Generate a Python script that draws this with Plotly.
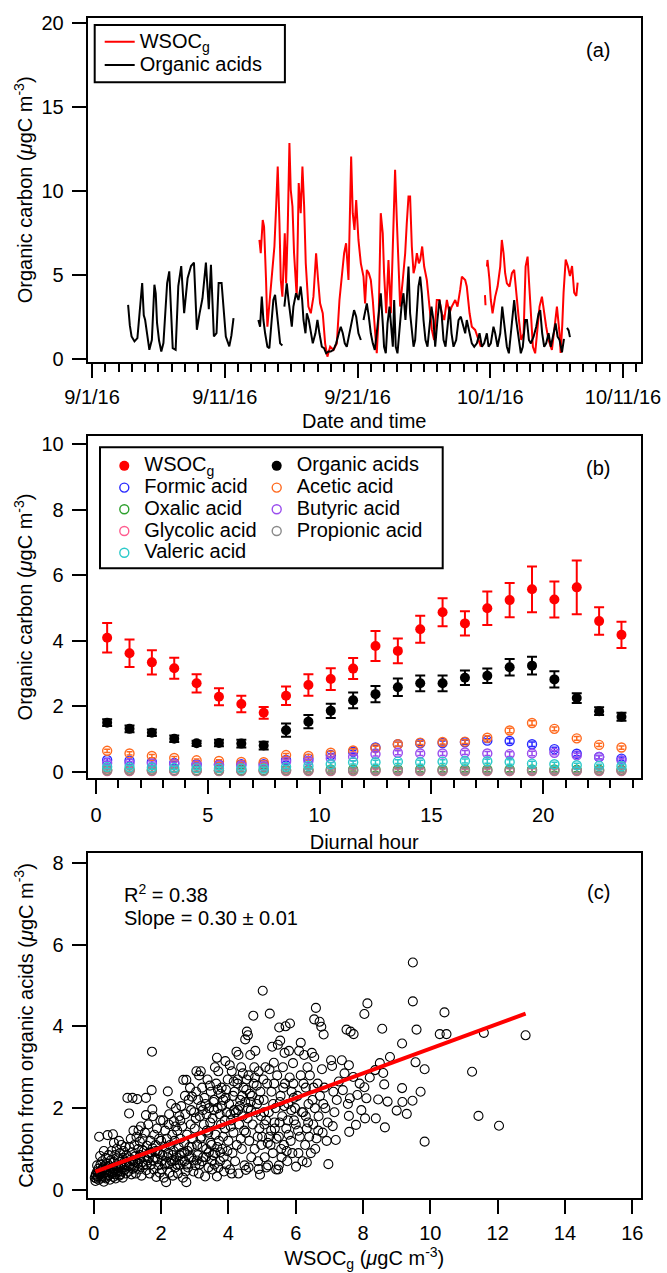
import plotly.graph_objects as go
import pandas as pd

W, H = 667, 1273
FONT = "Liberation Sans, Arial, Helvetica, sans-serif"
BASE = pd.Timestamp("2016-09-01")

# ---------------- Panel (a): time series (days after 9/1/16, value) ----------------
wsoc_ts = [
    (12.61, 7.08), (12.71, 6.29), (12.86, 8.27), (12.96, 7.88), (13.11, 4.70), (13.21, 1.92),
    (13.41, 3.71), (13.61, 5.30), (13.74, 6.69), (13.87, 9.07), (13.99, 11.45), (14.12, 8.08),
    (14.22, 4.70), (14.34, 3.71), (14.42, 5.50), (14.52, 7.48), (14.62, 4.50), (14.74, 7.68),
    (14.87, 12.84), (14.97, 10.06), (15.10, 9.07), (15.22, 6.29), (15.42, 3.71), (15.57, 10.46),
    (15.72, 8.67), (15.85, 11.45), (15.98, 9.07), (16.10, 5.69), (16.30, 3.12), (16.48, 2.72),
    (16.68, 3.71), (16.88, 6.29), (17.03, 4.70), (17.18, 3.31), (17.38, 2.72), (17.56, 0.93),
    (17.73, 0.14), (17.94, 0.73), (18.19, 0.54), (18.44, 0.93), (18.64, 3.51), (18.81, 5.10),
    (18.99, 6.29), (19.14, 6.88), (19.32, 4.70), (19.52, 12.04), (19.64, 8.67), (19.77, 7.68),
    (19.90, 9.46), (20.07, 7.08), (20.25, 5.69), (20.45, 4.90), (20.57, 3.31), (20.70, 5.30),
    (20.85, 5.10), (21.00, 4.70), (21.15, 3.51), (21.33, 1.53), (21.45, 0.34), (21.60, 2.72),
    (21.75, 8.67), (21.90, 7.48), (22.00, 5.10), (22.16, 2.72), (22.33, 5.89), (22.51, 2.72),
    (22.66, 6.69), (22.83, 11.25), (22.96, 8.27), (23.09, 5.50), (23.21, 3.12), (23.41, 4.70),
    (23.59, 6.29), (23.71, 8.08), (23.84, 9.66), (23.96, 9.66), (24.09, 6.69), (24.22, 5.10),
    (24.34, 5.50), (24.47, 6.29), (24.62, 5.69), (24.72, 5.89), (24.87, 6.69), (25.02, 5.50),
    (25.22, 4.70), (25.42, 3.12), (25.60, 1.73), (25.77, 1.13), (25.97, 3.51), (26.17, 3.51),
    (26.35, 2.72), (26.53, 2.32), (26.73, 3.51), (26.93, 2.72), (27.10, 3.12), (27.36, 3.51),
    (27.53, 3.12), (27.73, 4.11), (27.86, 4.90), (28.11, 4.70), (28.23, 4.31), (28.44, 2.72),
    (28.61, 1.92), (28.86, 1.73), (29.04, 1.33), (29.19, 0.93), (29.29, 0.73),
    (None, None), (29.60, 3.80), (29.64, 3.20), (None, None),
    (29.75, 5.50), (29.79, 5.89), (29.94, 4.70), (30.04, 3.51), (30.17, 2.72), (30.37, 3.71),
    (30.55, 4.31), (30.75, 5.50), (30.87, 7.08), (31.00, 6.29), (31.12, 5.10), (31.25, 4.50),
    (31.45, 4.31), (31.63, 5.10), (31.80, 5.30), (31.95, 3.91), (32.13, 2.52), (32.33, 1.13),
    (32.51, 1.53), (32.66, 5.50), (32.81, 6.09), (32.91, 4.70), (33.06, 2.32), (33.21, 0.73),
    (33.38, 0.34), (33.51, 1.53), (33.71, 3.12), (33.89, 3.71), (34.06, 2.72), (34.21, 1.92),
    (34.39, 1.13), (34.64, 0.54), (34.82, 1.73), (35.02, 3.12), (35.22, 1.50), (35.30, 0.36),
    (35.42, 2.00), (35.52, 3.95), (35.68, 5.92), (35.84, 5.53), (36.00, 4.94), (36.16, 5.53),
    (36.32, 3.95), (36.48, 3.75), (36.58, 4.54),
]

oa_ts = [
    (2.72, 3.22), (2.85, 2.00), (2.98, 1.34), (3.20, 1.05), (3.42, 1.24), (3.60, 3.00),
    (3.78, 4.52), (3.90, 2.60), (4.00, 2.33), (4.15, 1.50), (4.32, 0.55), (4.51, 1.14),
    (4.62, 3.40), (4.70, 4.42), (4.80, 3.90), (4.90, 2.13), (5.05, 1.10), (5.22, 0.45),
    (5.38, 0.95), (5.55, 3.60), (5.66, 4.52), (5.82, 5.21), (5.95, 2.50), (6.08, 0.65),
    (6.30, 0.55), (6.40, 2.60), (6.50, 4.34), (6.72, 5.53), (6.94, 2.73), (7.20, 4.80),
    (7.46, 5.53), (7.68, 5.73), (7.80, 3.50), (7.90, 1.74), (8.10, 2.70), (8.32, 3.60),
    (8.58, 5.73), (8.80, 2.96), (8.96, 5.60), (9.08, 3.00), (9.18, 1.34), (9.38, 1.54),
    (9.54, 4.52), (9.76, 4.52), (9.92, 2.60), (10.08, 1.34), (10.34, 0.75), (10.50, 1.40),
    (10.66, 2.43),
    (None, None),
    (12.53, 2.32), (12.66, 1.92), (12.79, 3.71), (12.91, 2.32), (13.04, 1.53), (13.21, 0.73),
    (13.36, 0.64), (13.54, 2.32), (13.66, 3.51), (13.79, 3.81), (13.92, 2.91), (14.04, 1.92),
    (14.17, 0.93), (14.34, 0.80),
    (None, None),
    (14.49, 3.12), (14.67, 4.50), (14.80, 3.51), (14.92, 2.72), (15.05, 1.92), (15.17, 3.12),
    (15.37, 3.91), (15.55, 3.51), (15.72, 4.31), (15.83, 3.51), (15.93, 2.32), (16.08, 1.53),
    (16.18, 2.72), (16.33, 2.32), (16.48, 1.53), (16.63, 0.93), (16.83, 1.53), (16.98, 2.32),
    (17.13, 1.53), (17.31, 0.73), (17.48, 0.64), (17.63, 0.34), (17.81, 0.44), (17.98, 0.44),
    (18.19, 0.54), (18.39, 0.93), (18.59, 1.53), (18.74, 1.92), (18.89, 1.53), (19.04, 0.93),
    (19.19, 0.73), (19.39, 1.53), (19.57, 2.32), (19.74, 2.91), (19.90, 2.52), (20.07, 1.53),
    (20.25, 1.13),
    (None, None),
    (20.45, 2.32), (20.57, 2.91), (20.70, 3.31), (20.85, 2.52), (21.00, 1.53), (21.15, 0.93),
    (21.30, 0.54), (21.45, 1.53), (21.60, 2.72), (21.75, 3.91), (21.90, 2.12), (22.00, 0.73),
    (22.13, 0.34), (22.26, 2.12), (22.41, 3.12), (22.51, 2.32), (22.66, 0.73), (22.76, 3.51),
    (22.88, 0.73), (23.01, 0.34), (23.16, 1.92), (23.31, 3.12), (23.46, 3.91), (23.61, 2.32),
    (23.71, 3.51), (23.84, 5.50), (23.96, 2.72), (24.09, 1.53), (24.22, 0.73), (24.34, 1.13),
    (24.47, 2.72), (24.59, 4.31), (24.72, 4.90), (24.84, 3.91), (24.97, 2.32), (25.12, 1.13),
    (25.27, 0.73), (25.42, 1.92), (25.57, 3.12), (25.72, 2.32), (25.85, 0.73), (26.02, 2.32),
    (26.17, 3.51), (26.33, 2.72), (26.48, 1.13), (26.63, 0.73), (26.78, 1.92), (26.93, 3.12),
    (27.08, 1.53), (27.23, 0.73), (27.43, 1.13), (27.61, 2.32), (27.78, 2.52), (27.93, 2.12),
    (28.11, 1.53), (28.23, 2.32), (28.44, 1.53), (28.61, 0.93), (28.79, 0.73), (28.99, 0.93),
    (29.19, 1.53), (29.37, 0.73), (29.54, 0.93), (29.74, 1.53), (29.87, 0.73), (30.04, 0.93),
    (30.24, 1.92), (30.37, 1.53), (30.55, 0.73), (30.75, 1.53), (30.90, 3.12), (31.05, 1.92),
    (31.25, 0.73), (31.40, 0.34), (31.55, 1.53), (31.70, 2.72), (31.80, 3.51), (31.95, 2.32),
    (32.13, 1.13), (32.30, 0.34), (32.45, 0.73), (32.63, 2.32), (32.76, 2.32), (32.91, 1.13),
    (33.06, 0.93), (33.26, 1.33), (33.46, 1.92), (33.64, 2.72), (33.76, 2.91), (33.91, 1.53),
    (34.06, 0.73), (34.21, 0.93), (34.39, 1.53), (34.56, 0.73), (34.77, 1.53), (34.92, 2.12),
    (35.07, 1.33), (35.22, 1.13), (35.40, 0.40), (35.55, 1.20),
    (None, None),
    (35.78, 1.85), (35.90, 1.70), (36.00, 1.30),
]

# ---------------- Panel (b): diurnal profiles ----------------
diurnal_hour = [0.5, 1.5, 2.5, 3.5, 4.5, 5.5, 6.5, 7.5, 8.5, 9.5, 10.5, 11.5,
                12.5, 13.5, 14.5, 15.5, 16.5, 17.5, 18.5, 19.5, 20.5, 21.5, 22.5, 23.5]
wsoc_diurnal = [4.09, 3.62, 3.34, 3.16, 2.70, 2.29, 2.07, 1.80, 2.32, 2.65, 2.83, 3.15,
                3.84, 3.69, 4.35, 4.87, 4.53, 4.99, 5.24, 5.57, 5.26, 5.63, 4.60, 4.18]
wsoc_diurnal_err = [0.45, 0.42, 0.37, 0.32, 0.28, 0.26, 0.25, 0.18, 0.28, 0.33, 0.33, 0.32,
                    0.46, 0.38, 0.41, 0.43, 0.37, 0.51, 0.52, 0.70, 0.55, 0.82, 0.42, 0.40]
oa_diurnal = [1.50, 1.31, 1.19, 1.01, 0.87, 0.88, 0.86, 0.80, 1.27, 1.53, 1.86, 2.18,
              2.37, 2.58, 2.70, 2.70, 2.87, 2.93, 3.19, 3.24, 2.82, 2.25, 1.85, 1.68]
oa_diurnal_err = [0.10, 0.10, 0.10, 0.10, 0.08, 0.10, 0.12, 0.12, 0.20, 0.20, 0.22, 0.24,
                  0.25, 0.27, 0.24, 0.24, 0.22, 0.22, 0.25, 0.27, 0.25, 0.15, 0.12, 0.12]
formic = [0.36, 0.34, 0.30, 0.27, 0.23, 0.22, 0.23, 0.23, 0.36, 0.40, 0.51, 0.61,
          0.74, 0.84, 0.87, 0.88, 0.90, 0.95, 0.94, 0.84, 0.69, 0.55, 0.45, 0.40]
acetic = [0.64, 0.56, 0.48, 0.42, 0.35, 0.33, 0.30, 0.29, 0.51, 0.48, 0.58, 0.65,
          0.72, 0.84, 0.89, 0.91, 0.92, 1.04, 1.26, 1.49, 1.31, 1.02, 0.82, 0.74]
oxalic = [0.06, 0.06, 0.06, 0.05, 0.05, 0.05, 0.05, 0.05, 0.06, 0.06, 0.07, 0.07,
          0.07, 0.07, 0.07, 0.07, 0.07, 0.07, 0.07, 0.07, 0.07, 0.06, 0.06, 0.06]
butyric = [0.27, 0.26, 0.25, 0.24, 0.21, 0.20, 0.19, 0.17, 0.31, 0.33, 0.41, 0.46,
           0.54, 0.58, 0.56, 0.56, 0.59, 0.56, 0.54, 0.56, 0.58, 0.50, 0.45, 0.35]
glycolic = [0.02, 0.02, 0.02, 0.02, 0.02, 0.02, 0.02, 0.02, 0.02, 0.02, 0.02, 0.02,
            0.02, 0.02, 0.02, 0.02, 0.02, 0.02, 0.02, 0.02, 0.02, 0.02, 0.02, 0.02]
propionic = [0.04, 0.04, 0.04, 0.04, 0.03, 0.03, 0.03, 0.03, 0.04, 0.04, 0.04, 0.04,
             0.04, 0.04, 0.04, 0.04, 0.04, 0.04, 0.04, 0.04, 0.04, 0.04, 0.04, 0.04]
valeric = [0.15, 0.14, 0.13, 0.12, 0.11, 0.11, 0.10, 0.10, 0.15, 0.18, 0.23, 0.29,
           0.29, 0.31, 0.29, 0.31, 0.33, 0.32, 0.30, 0.25, 0.23, 0.20, 0.18, 0.17]
small_err = [0.05, 0.05, 0.05, 0.05, 0.04, 0.04, 0.04, 0.04, 0.05, 0.05, 0.05, 0.05,
             0.06, 0.06, 0.06, 0.06, 0.06, 0.06, 0.07, 0.07, 0.06, 0.06, 0.05, 0.05]

# ---------------- Panel (c): scatter WSOCg vs organic acid carbon ----------------
scatter_pts = [
    (0.03,0.30),(0.05,0.22),(0.06,0.38),(0.08,0.28),(0.10,0.45),(0.10,0.60),(0.12,0.33),(0.14,0.52),
    (0.15,0.25),(0.16,1.30),(0.18,0.40),(0.19,0.83),(0.20,0.62),(0.22,0.30),(0.24,0.48),(0.25,0.70),
    (0.27,0.35),(0.28,0.55),(0.30,0.95),(0.30,0.20),(0.32,0.42),(0.34,0.60),(0.35,0.78),(0.36,0.28),
    (0.38,0.50),(0.40,0.65),(0.41,1.34),(0.42,0.35),(0.44,0.85),(0.45,0.45),(0.47,0.58),(0.48,0.25),
    (0.50,0.72),(0.52,0.40),(0.53,0.95),(0.55,0.55),(0.57,1.36),(0.58,0.32),(0.60,0.68),(0.60,1.15),
    (0.62,0.48),(0.64,0.85),(0.65,0.28),(0.67,0.60),(0.68,1.00),(0.70,0.42),(0.72,0.75),(0.74,0.55),
    (0.75,1.20),(0.76,0.35),(0.78,0.90),(0.80,0.62),(0.82,1.10),(0.83,0.45),(0.85,0.78),(0.86,0.30),
    (0.88,0.95),(0.90,0.55),(0.92,0.70),(0.94,1.05),(0.95,0.40),(0.97,0.85),(0.98,0.60),
    (1.00,2.25),(1.02,0.80),(1.03,0.45),(1.05,1.87),(1.06,1.05),(1.08,0.62),(1.10,1.25),(1.12,0.38),
    (1.14,0.92),(1.15,2.25),(1.16,0.70),(1.18,1.45),(1.20,0.55),(1.21,1.10),(1.23,0.82),(1.25,0.40),
    (1.27,1.30),(1.29,2.22),(1.30,0.65),(1.32,1.00),(1.33,1.46),(1.35,0.50),(1.37,1.18),(1.38,0.85),
    (1.40,1.55),(1.42,0.35),(1.44,0.98),(1.45,1.25),(1.47,0.60),(1.50,0.80),(1.52,1.40),(1.55,2.25),
    (1.55,1.83),(1.56,0.48),(1.58,1.08),(1.60,0.72),(1.62,1.60),(1.64,0.90),(1.66,0.40),(1.68,1.20),
    (1.70,0.62),(1.72,2.44),(1.73,3.38),(1.74,1.97),(1.75,1.02),(1.76,1.80),(1.78,0.50),(1.80,1.35),
    (1.82,0.78),(1.84,1.10),(1.86,0.32),(1.88,1.50),(1.90,0.95),(1.92,0.60),(1.94,1.25),(1.96,0.42),
    (1.98,1.70),
    (2.00,1.20),(2.02,0.50),(2.04,0.85),(2.06,1.70),(2.08,0.30),(2.10,1.05),(2.12,1.45),(2.14,0.65),
    (2.15,0.19),(2.17,1.25),(2.20,2.41),(2.21,0.90),(2.23,1.60),(2.25,0.42),(2.27,1.10),(2.30,2.10),
    (2.31,0.70),(2.33,1.35),(2.35,0.35),(2.37,0.95),(2.38,1.68),(2.40,1.20),(2.42,0.55),(2.44,2.00),
    (2.46,0.80),(2.48,1.45),(2.50,0.40),(2.52,1.05),(2.54,1.80),(2.56,0.62),(2.58,1.25),(2.60,2.05),
    (2.61,0.90),(2.63,1.55),(2.65,0.30),(2.66,2.69),(2.68,1.15),(2.70,0.70),(2.72,1.85),(2.73,0.45),
    (2.75,0.19),(2.75,2.69),(2.77,1.35),(2.79,0.95),(2.80,0.55),(2.82,2.20),(2.84,1.05),(2.86,2.50),
    (2.88,1.60),(2.90,0.80),(2.92,2.28),(2.94,1.25),(2.96,0.45),(2.98,1.90),
    (3.00,1.50),(3.02,0.60),(3.04,2.40),(3.05,2.90),(3.07,1.10),(3.09,0.85),(3.10,2.20),(3.12,0.40),
    (3.13,2.80),(3.15,1.80),(3.17,1.25),(3.18,2.90),(3.20,1.30),(3.21,0.70),(3.22,2.50),(3.24,1.95),
    (3.25,0.80),(3.27,1.60),(3.29,2.25),(3.31,0.33),(3.32,2.10),(3.34,1.00),(3.36,1.45),(3.38,2.70),
    (3.40,1.40),(3.41,0.55),(3.43,2.00),(3.45,2.55),(3.47,1.15),(3.48,2.40),(3.50,1.10),(3.52,0.50),
    (3.53,1.75),(3.55,0.85),(3.56,2.15),(3.58,2.20),(3.60,0.90),(3.60,3.00),(3.62,1.35),(3.64,2.60),
    (3.66,3.23),(3.66,0.33),(3.68,2.00),(3.70,2.90),(3.70,0.55),(3.72,1.20),(3.74,1.85),(3.75,0.70),
    (3.77,2.35),(3.78,1.60),(3.80,2.50),(3.82,1.00),(3.84,1.30),(3.85,2.20),(3.87,0.45),(3.89,1.70),
    (3.90,1.50),(3.91,3.15),(3.93,2.45),(3.95,1.90),(3.97,0.95),(3.98,2.70),
    (4.00,1.20),(4.02,2.10),(4.04,3.05),(4.05,0.50),(4.07,1.55),(4.08,1.70),(4.10,2.90),(4.10,0.40),
    (4.12,0.90),(4.14,2.30),(4.15,1.40),(4.17,1.95),(4.18,2.40),(4.20,0.70),(4.22,1.90),(4.24,3.38),
    (4.25,1.10),(4.27,2.60),(4.28,2.70),(4.30,0.40),(4.30,3.30),(4.32,1.60),(4.34,2.05),(4.35,2.20),
    (4.37,1.25),(4.38,3.00),(4.40,1.00),(4.42,1.80),(4.43,2.85),(4.45,2.50),(4.47,1.45),(4.48,0.60),
    (4.50,3.68),(4.50,2.15),(4.52,0.49),(4.52,1.40),(4.54,2.70),(4.55,3.87),(4.57,1.75),(4.58,2.00),
    (4.58,3.78),(4.60,2.80),(4.60,0.55),(4.62,1.20),(4.64,2.35),(4.65,3.30),(4.67,1.95),(4.68,0.80),
    (4.70,2.30),(4.72,1.60),(4.74,4.26),(4.75,2.60),(4.77,3.00),(4.78,1.00),(4.80,3.40),(4.82,1.90),
    (4.84,2.55),(4.85,2.10),(4.87,1.30),(4.88,0.70),(4.90,0.51),(4.90,2.90),(4.92,1.50),(4.94,0.37),
    (4.95,2.40),(4.97,1.80),(4.98,1.10),
    (5.00,1.30),(5.02,4.87),(5.04,2.70),(5.05,2.20),(5.07,1.60),(5.08,0.80),(5.10,3.00),(5.12,1.70),
    (5.13,0.55),(5.15,2.60),(5.17,1.15),(5.18,0.60),(5.20,1.90),(5.22,2.95),(5.23,4.31),(5.25,1.10),
    (5.27,1.45),(5.28,2.40),(5.30,3.50),(5.32,0.90),(5.33,2.10),(5.35,3.11),(5.37,1.65),(5.38,1.50),
    (5.40,2.00),(5.42,0.50),(5.43,1.25),(5.45,2.80),(5.47,3.55),(5.48,0.50),(5.50,1.30),(5.50,0.60),
    (5.51,3.97),(5.53,2.15),(5.54,3.65),(5.55,2.30),(5.57,1.00),(5.58,0.80),(5.60,1.80),(5.62,3.00),
    (5.63,2.50),(5.65,1.10),(5.67,3.35),(5.68,2.60),(5.70,4.00),(5.72,1.50),(5.73,0.95),(5.75,0.70),
    (5.77,1.70),(5.78,2.10),(5.80,3.40),(5.82,2.75),(5.83,4.07),(5.85,1.20),(5.87,1.95),(5.88,2.40),
    (5.90,0.90),(5.92,3.10),(5.94,2.25),(5.95,1.70),(5.98,2.00),
    (6.00,1.60),(6.01,0.57),(6.05,2.30),(6.08,0.90),(6.10,3.40),(6.12,1.30),(6.15,2.80),(6.15,3.60),
    (6.18,1.90),(6.20,0.70),(6.22,1.90),(6.25,3.30),(6.28,1.10),(6.30,2.50),(6.30,1.80),(6.33,1.50),
    (6.33,0.67),(6.35,3.00),(6.38,2.10),(6.40,1.30),(6.42,2.80),(6.45,0.90),(6.48,3.35),(6.50,2.20),
    (6.52,1.60),(6.55,4.17),(6.55,3.25),(6.57,2.00),(6.58,1.00),(6.60,4.45),(6.62,1.26),(6.65,2.60),
    (6.68,1.80),(6.71,4.11),(6.72,2.30),(6.76,3.99),(6.78,2.95),(6.80,1.40),(6.83,3.80),(6.85,2.50),
    (6.88,2.00),(6.92,1.20),(6.95,1.65),(6.97,0.63),
    (7.05,3.17),(7.08,3.03),(7.10,1.56),(7.12,2.40),(7.15,1.90),(7.19,1.22),(7.22,2.20),(7.28,2.65),
    (7.37,3.17),(7.40,2.44),(7.45,2.85),(7.51,3.92),(7.55,2.10),(7.58,3.05),(7.58,1.81),(7.59,1.42),
    (7.61,2.24),(7.63,3.87),(7.71,2.76),(7.72,3.81),(7.79,1.59),(7.83,2.32),(7.90,2.60),(7.95,1.95),
    (8.04,4.30),(8.04,2.51),(8.06,1.75),(8.10,2.24),(8.13,4.56),(8.20,2.75),(8.36,2.93),(8.38,1.75),
    (8.45,2.21),(8.50,3.10),(8.57,3.94),(8.60,2.86),(8.63,2.58),(8.65,1.53),(8.73,2.16),(8.80,3.25),
    (9.00,1.94),(9.16,3.58),(9.16,2.49),(9.17,2.15),(9.30,1.86),(9.47,2.18),(9.48,5.56),(9.48,4.61),
    (9.56,3.12),(9.59,3.92),(9.71,2.40),(9.83,2.95),(9.83,1.18),
    (10.28,3.81),(10.42,4.34),(10.48,3.81),(11.24,2.89),(11.43,1.81),(11.59,3.84),(12.04,1.57),(12.83,3.78),
    # additional points in the dense part of the cloud
    (0.07,0.35),(0.13,0.42),(0.21,0.38),(0.26,0.52),(0.33,0.31),(0.39,0.44),(0.46,0.36),(0.51,0.52),
    (0.56,0.42),(0.63,0.38),(0.69,0.52),(0.73,0.45),(0.79,0.38),(0.84,0.55),(0.91,0.48),(0.96,0.68),
    (1.04,0.58),(1.11,0.75),(1.17,0.52),(1.24,0.68),(1.31,0.58),(1.36,0.75),(1.43,0.68),(1.49,0.95),
    (1.57,0.62),(1.63,0.78),(1.69,0.92),(1.77,0.72),(1.83,0.95),(1.89,0.75),(1.97,0.88),
    (2.03,0.72),(2.11,0.62),(2.18,0.80),(2.26,0.65),(2.34,0.85),(2.41,0.72),(2.47,0.62),(2.55,0.85),
    (2.62,0.72),(2.69,0.92),(2.76,0.62),(2.83,0.80),(2.91,1.05),(2.97,0.72),(3.06,0.72),(3.14,0.62),
    (3.23,1.05),(3.33,0.80),(3.42,0.92),(3.51,0.72),(3.59,0.62),(3.67,1.05),(3.76,0.92),(3.86,0.80),
    (3.94,0.62),
    (2.24,1.85),(2.43,1.55),(2.57,1.70),(2.71,2.30),(2.89,1.95),(3.03,1.75),(3.19,2.05),(3.35,1.85),
    (3.46,1.65),(3.57,1.95),(3.69,2.45),(3.81,2.05),(3.92,2.25),(4.06,1.85),(4.16,2.65),(4.29,1.95),
    (4.41,2.30),(4.53,2.45),(4.66,2.15),(4.79,2.75),(4.91,2.20),
    (5.06,1.90),(5.21,1.30),(5.36,2.60),(5.52,1.65),(5.66,2.05),(5.79,1.35),(5.93,2.60),(6.07,1.45),
    (6.23,2.60),(6.37,1.65),(6.53,2.50),(6.67,1.45),(6.82,2.10),
]
fit_x = [0.05, 12.83]
fit_y = [0.45, 4.31]

# ---------------- helpers ----------------
def to_time(pairs):
    xs = [None if d is None else BASE + pd.Timedelta(days=d) for d, _ in pairs]
    ys = [v for _, v in pairs]
    return xs, ys

def px_x(x):
    return x / W

def px_y(y):
    return 1 - y / H

def leg_name(t):
    return f'<span style="font-size:20px">{t}</span>'

UNIT = "(<i>μ</i>gC m<sup>-3</sup>)"

fig = go.Figure()

# Panel (a)
wx, wy = to_time(wsoc_ts)
ox, oy = to_time(oa_ts)
fig.add_trace(go.Scatter(x=wx, y=wy, mode="lines", name=leg_name("WSOC<sub>g</sub>"),
                         line=dict(color="#ff0000", width=2), connectgaps=False,
                         xaxis="x", yaxis="y", legend="legend"))
fig.add_trace(go.Scatter(x=ox, y=oy, mode="lines", name=leg_name("Organic acids"),
                         line=dict(color="#000000", width=2), connectgaps=False,
                         xaxis="x", yaxis="y", legend="legend"))

# Panel (b)
acid_series = [
    ("Formic acid", formic, "#2a2aff", "legend2", 2),
    ("Acetic acid", acetic, "#ff6a1f", "legend3", 2),
    ("Oxalic acid", oxalic, "#2ea02e", "legend2", 3),
    ("Butyric acid", butyric, "#9a4dee", "legend3", 3),
    ("Glycolic acid", glycolic, "#ff5c8f", "legend2", 4),
    ("Propionic acid", propionic, "#8a8a8a", "legend3", 4),
    ("Valeric acid", valeric, "#2ccaca", "legend2", 5),
]
for name, vals, col, leg, rank in acid_series:
    fig.add_trace(go.Scatter(
        x=diurnal_hour, y=vals, mode="markers", name=leg_name(name),
        marker=dict(symbol="circle-open", size=9, color=col, line=dict(width=1.4, color=col)),
        error_y=dict(type="data", array=small_err, color=col, thickness=1.5, width=3),
        xaxis="x2", yaxis="y2", legend=leg, legendrank=rank))
fig.add_trace(go.Scatter(
    x=diurnal_hour, y=oa_diurnal, mode="markers", name=leg_name("Organic acids"),
    marker=dict(symbol="circle", size=10, color="#000000"),
    error_y=dict(type="data", array=oa_diurnal_err, color="#000000", thickness=2, width=5),
    xaxis="x2", yaxis="y2", legend="legend3", legendrank=1))
fig.add_trace(go.Scatter(
    x=diurnal_hour, y=wsoc_diurnal, mode="markers", name=leg_name("WSOC<sub>g</sub>"),
    marker=dict(symbol="circle", size=10, color="#ff0000"),
    error_y=dict(type="data", array=wsoc_diurnal_err, color="#ff0000", thickness=2, width=5),
    xaxis="x2", yaxis="y2", legend="legend2", legendrank=1))

# Panel (c)
sx = [p[0] for p in scatter_pts]
sy = [p[1] for p in scatter_pts]
fig.add_trace(go.Scatter(x=sx, y=sy, mode="markers", showlegend=False,
                         marker=dict(symbol="circle-open", size=9, color="#000000",
                                     line=dict(width=1.1, color="#000000")),
                         xaxis="x3", yaxis="y3"))
fig.add_trace(go.Scatter(x=fit_x, y=fit_y, mode="lines", showlegend=False,
                         line=dict(color="#ff0000", width=4), xaxis="x3", yaxis="y3"))

# ---------------- layout ----------------
tickfont = dict(family=FONT, size=20, color="black")
titlefont = dict(family=FONT, size=20, color="black")

def axis(**kw):
    d = dict(showline=True, linecolor="black", linewidth=2, mirror=True,
             ticks="outside", ticklen=14, tickwidth=2, tickcolor="black", automargin=False,
             showgrid=False, zeroline=False, tickfont=tickfont, title_font=titlefont)
    d.update(kw)
    return d

XDOM = [px_x(87.7), px_x(640.7)]

fig.update_layout(
    width=W, height=H, margin=dict(l=0, r=0, t=0, b=0, autoexpand=False),
    paper_bgcolor="white", plot_bgcolor="white",
    font=dict(family=FONT, size=20, color="black"),
    xaxis=axis(domain=XDOM, anchor="y", type="date",
               range=[BASE + pd.Timedelta(days=-0.324), BASE + pd.Timedelta(days=41.33)],
               tick0="2016-09-01", dtick=10 * 86400000, tickformat="%-m/%-d/%y",
               ticklabelstandoff=2,
               minor=dict(ticks="outside", ticklen=8, tickwidth=2, tickcolor="black",
                          dtick=86400000, tick0="2016-09-01"),
               title=dict(text="Date and time", standoff=7)),
    yaxis=axis(domain=[px_y(361.7), px_y(18)], anchor="x", range=[-0.16, 20.28],
               tick0=0, dtick=5, ticklabelstandoff=4,
               title=dict(text="Organic carbon " + UNIT, standoff=3)),
    xaxis2=axis(domain=XDOM, anchor="y2", range=[-0.37, 24.36], tick0=0, dtick=5,
                ticklabelstandoff=4,
                minor=dict(ticks="outside", ticklen=8, tickwidth=2, tickcolor="black", dtick=1),
                title=dict(text="Diurnal hour", standoff=10)),
    yaxis2=axis(domain=[px_y(778), px_y(436)], anchor="x2", range=[-0.19, 10.25],
                tick0=0, dtick=2, ticklabelstandoff=4,
                title=dict(text="Organic carbon " + UNIT, standoff=3)),
    xaxis3=axis(domain=XDOM, anchor="y3", range=[-0.18, 16.25], tick0=0, dtick=2,
                ticklabelstandoff=2,
                title=dict(text="WSOC<sub>g</sub> " + UNIT, standoff=2)),
    yaxis3=axis(domain=[px_y(1197.7), px_y(853.3)], anchor="x3", range=[-0.19, 8.23],
                tick0=0, dtick=2, ticklabelstandoff=4,
                title=dict(text="Carbon from organic acids " + UNIT, standoff=14)),
    legend=dict(x=px_x(99.7), y=px_y(25), xanchor="left", yanchor="top",
                bgcolor="rgba(0,0,0,0)", borderwidth=0,
                font=dict(family=FONT, size=15.6, color="black"), itemwidth=30,
                tracegroupgap=0),
    legend2=dict(x=px_x(104.3), y=px_y(450), xanchor="left", yanchor="top",
                 bgcolor="rgba(0,0,0,0)", borderwidth=0,
                 font=dict(family=FONT, size=14.4, color="black"), itemwidth=30,
                 tracegroupgap=0),
    legend3=dict(x=px_x(256.7), y=px_y(450), xanchor="left", yanchor="top",
                 bgcolor="rgba(0,0,0,0)", borderwidth=0,
                 font=dict(family=FONT, size=14.4, color="black"), itemwidth=30,
                 tracegroupgap=0),
    shapes=[
        dict(type="rect", xref="paper", yref="paper",
             x0=px_x(94.7), x1=px_x(284.9), y0=px_y(82.3), y1=px_y(25),
             line=dict(color="black", width=2), fillcolor="rgba(0,0,0,0)", layer="above"),
        dict(type="rect", xref="paper", yref="paper",
             x0=px_x(100), x1=px_x(442.7), y0=px_y(568.3), y1=px_y(447.3),
             line=dict(color="black", width=2), fillcolor="rgba(0,0,0,0)", layer="above"),
    ],
    annotations=[
        dict(text="(a)", x=px_x(598), y=px_y(50), xref="paper", yref="paper",
             showarrow=False, xanchor="center", yanchor="middle", font=titlefont),
        dict(text="(b)", x=px_x(598), y=px_y(468), xref="paper", yref="paper",
             showarrow=False, xanchor="center", yanchor="middle", font=titlefont),
        dict(text="(c)", x=px_x(598), y=px_y(892), xref="paper", yref="paper",
             showarrow=False, xanchor="center", yanchor="middle", font=titlefont),
        dict(text="R<sup>2</sup> = 0.38", x=px_x(122), y=px_y(893), xref="paper", yref="paper",
             showarrow=False, xanchor="left", yanchor="middle", font=titlefont),
        dict(text="Slope = 0.30 ± 0.01", x=px_x(122), y=px_y(918), xref="paper", yref="paper",
             showarrow=False, xanchor="left", yanchor="middle", font=titlefont),
    ],
)

fig.write_html("out.html",
               config={"displayModeBar": False},
               post_script="document.body.style.margin='0px';"
                           "document.body.style.overflow='hidden';")
